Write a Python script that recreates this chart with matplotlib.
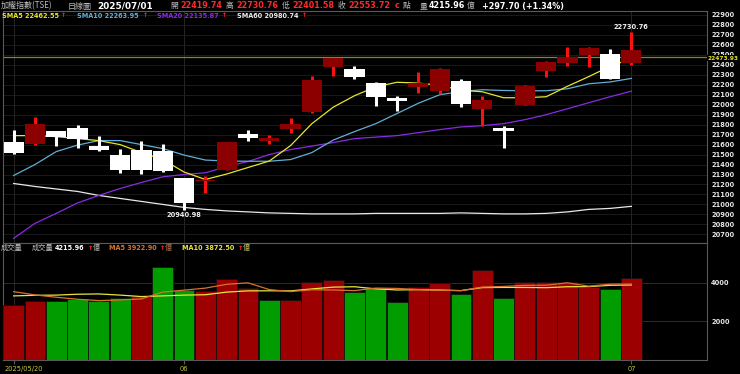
import matplotlib
matplotlib.use('Agg')
import matplotlib.pyplot as plt
from matplotlib.transforms import ScaledTranslation, blended_transform_factory

# ---------------- data ----------------
dates = ['2025/05/20', '2025/05/21', '2025/05/22', '2025/05/23', '2025/05/26', '2025/05/27',
         '2025/05/28', '2025/05/29', '2025/06/02', '2025/06/03', '2025/06/04', '2025/06/05',
         '2025/06/06', '2025/06/09', '2025/06/10', '2025/06/11', '2025/06/12', '2025/06/13',
         '2025/06/16', '2025/06/17', '2025/06/18', '2025/06/19', '2025/06/20', '2025/06/23',
         '2025/06/24', '2025/06/25', '2025/06/26', '2025/06/27', '2025/06/30', '2025/07/01']
opens = [21630, 21607, 21733, 21767, 21583, 21500, 21543, 21533, 21260, 21238,
         21350, 21705, 21635, 21760, 21923, 22377, 22360, 22217, 22065, 22173,
         22133, 22240, 21960, 21765, 22000, 22343, 22423, 22500, 22510, 22419.74]
highs = [21750, 21880, 21740, 21800, 21690, 21560, 21633, 21610, 21265, 21290,
         21625, 21743, 21700, 21867, 22293, 22470, 22390, 22227, 22090, 22327,
         22370, 22257, 22090, 21790, 22200, 22443, 22583, 22575, 22557, 22730.76]
lows = [21510, 21600, 21590, 21567, 21540, 21320, 21310, 21330, 20940.98, 21115,
        21348, 21633, 21610, 21717, 21920, 22293, 22257, 21983, 21933, 22117,
        22110, 21977, 21783, 21570, 21998, 22283, 22390, 22383, 22254, 22401.58]
closes = [21520, 21810, 21677, 21657, 21545, 21343, 21350, 21340, 21010, 21242,
          21623, 21665, 21662, 21805, 22243, 22467, 22283, 22073, 22035, 22217,
          22357, 22007, 22050, 21735, 22190, 22427, 22483, 22573, 22256.02, 22553.72]
sma5 = [21690, 21690, 21680, 21660, 21640, 21600, 21520, 21450, 21325, 21250,
        21305, 21370, 21435, 21590, 21810, 21975, 22090, 22180, 22225, 22217,
        22195, 22145, 22130, 22070, 22070, 22080, 22185, 22282, 22385, 22462.55]
sma10 = [21290, 21400, 21530, 21595, 21640, 21640, 21600, 21560, 21495, 21445,
         21435, 21433, 21433, 21450, 21520, 21645, 21730, 21810, 21912, 22015,
         22100, 22133, 22150, 22143, 22140, 22140, 22160, 22210, 22228, 22263.95]
sma20 = [20660, 20810, 20910, 21015, 21090, 21160, 21220, 21277, 21300, 21317,
         21380, 21430, 21500, 21550, 21585, 21620, 21660, 21675, 21690, 21720,
         21750, 21777, 21790, 21810, 21850, 21900, 21960, 22020, 22080, 22135.87]
sma60 = [21210, 21180, 21155, 21130, 21090, 21060, 21030, 21000, 20970, 20950,
         20935, 20925, 20915, 20910, 20905, 20905, 20905, 20910, 20910, 20910,
         20910, 20915, 20910, 20905, 20905, 20910, 20925, 20950, 20960, 20980.74]
volume = [2843, 3066, 3050, 3137, 3050, 3205, 3326, 4823, 3619, 3584,
          4188, 3705, 3085, 3100, 4050, 4136, 3533, 3740, 3016, 3757,
          3980, 3412, 4653, 3188, 4033, 4020, 4033, 3790, 3688, 4215.96]
vol_up = [1, 1, 0, 0, 0, 0, 1, 0, 0, 1, 1, 1, 0, 1, 1, 1, 0, 0, 0, 1,
          1, 0, 1, 0, 1, 1, 1, 1, 0, 1]
vol_ma5 = [3530, 3360, 3240, 3137, 3066, 3100, 3154, 3508, 3605, 3711,
           3908, 3984, 3636, 3532, 3626, 3615, 3581, 3712, 3695, 3636,
           3605, 3581, 3764, 3798, 3853, 3861, 3985, 3813, 3913, 3922.90]
vol_ma10 = [3309, 3340, 3350, 3395, 3410, 3350, 3275, 3310, 3350, 3370,
            3505, 3569, 3572, 3569, 3669, 3762, 3782, 3674, 3614, 3631,
            3610, 3581, 3738, 3747, 3745, 3733, 3783, 3788, 3855, 3872.50]
ref_line = 22473.93
price_ticks = list(range(20700, 22901, 100))
vol_ticks = [2000, 4000]
x_tick_idx = [0, 8, 29]
x_tick_labels = ['2025/05/20', '06', '07']

# ---------------- layout ----------------
W, H = 740, 374
fig = plt.figure(figsize=(W / 100, H / 100), dpi=100, facecolor='black')

def fx(x):
    return x / W

def fy(y):
    return 1 - y / H

L, R = 3, 707
TOP, MID, BOT = 10.5, 243, 360
ax = fig.add_axes([fx(L), fy(MID), (R - L) / W, (MID - TOP) / H])
axv = fig.add_axes([fx(L), fy(BOT), (R - L) / W, (BOT - MID) / H])

SPINE = '#5a5a5a'
for a in (ax, axv):
    a.set_facecolor('black')
    for s in a.spines.values():
        s.set_color(SPINE)
        s.set_linewidth(0.8)
    a.set_xlim(-0.5, 32.55)

n = len(closes)
xs = list(range(n))

# ---------------- price panel ----------------
ax.set_ylim(20613, 22945)
ax.yaxis.tick_right()
ax.set_yticks(price_ticks)
ax.set_yticklabels([str(v) for v in price_ticks])
ax.tick_params(axis='y', length=0, pad=3, labelsize=4.8, labelcolor='#E6E6E6')
for tl in ax.get_yticklabels():
    tl.set_fontweight('bold')
ax.set_xticks(x_tick_idx)
ax.tick_params(axis='x', length=0, labelbottom=False)
ax.grid(axis='y', color='#1f1f1f', lw=0.6, zorder=0)
ax.grid(axis='x', color='#2c2c2c', lw=0.6, zorder=0)
ax.set_axisbelow(True)

ax.axhline(ref_line, color='#85852c', lw=0.9, zorder=1)

ax.plot(xs, sma60, color='#e8e8e8', lw=0.9, zorder=2)
ax.plot(xs, sma20, color='#8a2be2', lw=0.9, zorder=2)
ax.plot(xs, sma10, color='#62aed6', lw=0.9, zorder=2)
ax.plot(xs, sma5, color='#e6e62a', lw=0.9, zorder=2)

min_body = 14
for i in xs:
    o, h, l, c = opens[i], highs[i], lows[i], closes[i]
    up = c >= o
    wick_c = '#ff1010' if up else '#ffffff'
    body_c = '#8c0000' if up else '#ffffff'
    ax.vlines(i, l, h, color=wick_c, lw=2.2, zorder=3)
    bot = min(o, c)
    ht = abs(c - o)
    if ht < min_body:
        bot = (o + c) / 2 - min_body / 2
        ht = min_body
    ax.bar(i, ht, bottom=bot, width=0.95, color=body_c, lw=0, zorder=4)

ax.annotate(f'{highs[29]:.2f}', xy=(29, highs[29]), xytext=(0, 1.5),
            textcoords='offset points', ha='center', va='bottom',
            color='#f0f0f0', fontsize=4.8, fontweight='bold', zorder=6)
ax.annotate(f'{lows[8]:.2f}', xy=(8, lows[8]), xytext=(0, -1.5),
            textcoords='offset points', ha='center', va='top',
            color='#f0f0f0', fontsize=4.8, fontweight='bold', zorder=6)

tr = blended_transform_factory(ax.transAxes, ax.transData)
ax.text(1.001, ref_line - 8, f'{ref_line:.2f}', transform=tr, ha='left', va='center',
        color='#e6e61e', fontsize=4.2, fontweight='bold', clip_on=False, zorder=7,
        bbox=dict(facecolor='black', edgecolor='none', pad=0.4))

# ---------------- volume panel ----------------
axv.set_ylim(0, 6040)
vcols = ['#9c0000' if u else '#009c00' for u in vol_up]
axv.bar(xs, volume, width=0.98, color=vcols, edgecolor='#101010', lw=0.5, zorder=3)
axv.plot(xs, vol_ma10, color='#e6e63c', lw=0.9, zorder=4)
axv.plot(xs, vol_ma5, color='#d9722e', lw=0.9, zorder=4)
axv.yaxis.tick_right()
axv.set_yticks(vol_ticks)
axv.set_yticklabels([str(v) for v in vol_ticks])
axv.tick_params(axis='y', length=0, pad=3, labelsize=4.8, labelcolor='#E6E6E6')
for tl in axv.get_yticklabels():
    tl.set_fontweight('bold')
axv.grid(axis='y', color='#333333', lw=0.6, zorder=0)
axv.grid(axis='x', color='#2c2c2c', lw=0.6, zorder=0)
axv.set_axisbelow(True)
axv.set_xticks(x_tick_idx)
axv.set_xticklabels(x_tick_labels)
axv.tick_params(axis='x', length=3, color=SPINE, pad=1.5, labelsize=4.8, labelcolor='#c8c83c')
lab0 = axv.get_xticklabels()[0]
lab0.set_horizontalalignment('left')
lab0.set_transform(lab0.get_transform() + ScaledTranslation(-9.5 / 100, 0, fig.dpi_scale_trans))

# ---------------- header texts ----------------
CJK = ['Noto Sans CJK TC', 'DejaVu Sans']
GRAY = '#bdbdbd'
RED = '#ff2a2a'

def t(x, y, s, color, size=5.8, bold=True, family=None):
    kw = dict(color=color, fontsize=size, ha='left', va='center')
    if bold:
        kw['fontweight'] = 'bold'
    if family:
        kw['family'] = family
    fig.text(fx(x), fy(y), s, **kw)

y1 = 6
t(1, y1, '加權指數(TSE)', GRAY, 5.8, False, CJK)
t(68, y1, '日線圖', GRAY, 5.8, False, CJK)
t(97, y1, '2025/07/01', '#ffffff', 6.4)
t(170, y1, '開', GRAY, 5.6, False, CJK)
t(180, y1, f'{opens[29]:.2f}', RED)
t(226, y1, '高', GRAY, 5.6, False, CJK)
t(236, y1, f'{highs[29]:.2f}', RED)
t(282, y1, '低', GRAY, 5.6, False, CJK)
t(292, y1, f'{lows[29]:.2f}', RED)
t(338, y1, '收', GRAY, 5.6, False, CJK)
t(348, y1, f'{closes[29]:.2f}', RED)
t(395, y1, 'c', RED)
t(403, y1, '點', GRAY, 5.6, False, CJK)
t(420, y1, '量', GRAY, 5.6, False, CJK)
t(429, y1, f'{volume[29]:.2f}', '#ffffff')
t(467, y1, '億', GRAY, 5.6, False, CJK)
chg = closes[29] - closes[28]
t(482, y1, f'+{chg:.2f} (+{chg / closes[28] * 100:.2f}%)', '#ffffff')

y2 = 15.5
t(2, y2, f'SMA5 {sma5[-1]:.2f}', '#e6e62a', 4.7)
t(61, y2, '↑', RED, 4.6, True, ['DejaVu Sans'])
t(77, y2, f'SMA10 {sma10[-1]:.2f}', '#62aed6', 4.7)
t(143, y2, '↑', RED, 4.6, True, ['DejaVu Sans'])
t(157, y2, f'SMA20 {sma20[-1]:.2f}', '#8a2be2', 4.7)
t(222, y2, '↑', RED, 4.6, True, ['DejaVu Sans'])
t(237, y2, f'SMA60 {sma60[-1]:.2f}', '#ededed', 4.7)
t(302, y2, '↑', RED, 4.6, True, ['DejaVu Sans'])

y3 = 248
t(1, y3, '成交量', GRAY, 5.2, False, CJK)
t(32, y3, '成交量', GRAY, 5.2, False, CJK)
t(55, y3, f'{volume[29]:.2f}', '#ffffff', 4.7)
t(88, y3, '↑', RED, 4.6, True, ['DejaVu Sans'])
t(93, y3, '億', GRAY, 5.2, False, CJK)
t(109, y3, f'MA5 {vol_ma5[-1]:.2f}', '#d9722e', 4.7)
t(160, y3, '↑', RED, 4.6, True, ['DejaVu Sans'])
t(165, y3, '億', '#b07a50', 5.2, False, CJK)
t(182, y3, f'MA10 {vol_ma10[-1]:.2f}', '#e6e63c', 4.7)
t(238, y3, '↑', RED, 4.6, True, ['DejaVu Sans'])
t(243, y3, '億', '#c8c870', 5.2, False, CJK)

fig.savefig('out.png', dpi=100, facecolor='black')
